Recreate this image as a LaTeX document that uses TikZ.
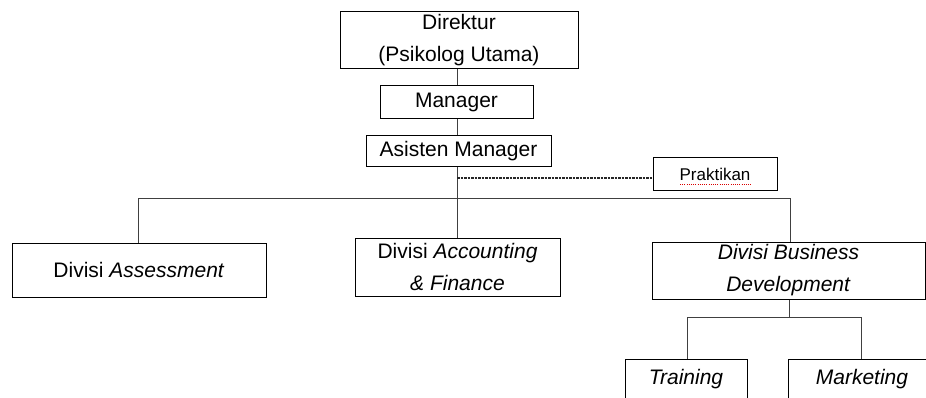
\documentclass[tikz,border=0pt]{standalone}
\usepackage{fontspec}
\setmainfont{Liberation Sans}
\usetikzlibrary{calc}
\begin{document}
\begin{tikzpicture}[x=1pt,y=-1pt,
  box/.style={draw=black,line width=1pt,rectangle,inner sep=0pt,align=center,
    font=\fontsize{21}{32}\selectfont},
  conn/.style={draw=black!75,line width=1pt},
  dashconn/.style={draw=black!85,line width=1.1pt,dash pattern=on 2.5pt off 1pt}]
\useasboundingbox (0,0) rectangle (926,398);
\clip (0,0) rectangle (926,398);
\coordinate (trunk) at (457,0);
\coordinate (barL) at (138,199);
\coordinate (barR) at (790,199);
\coordinate (dashY) at (0,178);
\coordinate (subL) at (687,317);
\coordinate (subR) at (861,317);
\coordinate (subM) at (789,317);

\node[box,minimum width=238pt,minimum height=57pt] (dir) at (459,40.5) {Direktur\\(Psikolog Utama)};
\node[box,minimum width=153pt,minimum height=33pt] (mgr) at (456.5,102.5) {Manager};
\node[box,minimum width=185pt,minimum height=31pt] (asm) at (458.5,151.5) {Asisten Manager};
\node[box,minimum width=124pt,minimum height=33pt,font=\fontsize{17}{20}\selectfont] (prak) at (715,174.5) {Praktikan};
\node[box,minimum width=254pt,minimum height=54pt] (ass) at (139,270) {Divisi \textit{Assessment}};
\node[box,minimum width=205pt,minimum height=58pt] (acc) at (457.5,267) {Divisi \textit{Accounting}\\\textit{\& Finance}};
\node[box,minimum width=273pt,minimum height=57pt] (bd) at (788.5,270.5) {\textit{Divisi Business}\\\textit{Development}};
\node[box,minimum width=122pt,minimum height=62pt,text depth=27pt] (tr) at (686,390) {\textit{Training}};
\node[box,minimum width=148pt,minimum height=62pt,text depth=27pt] (mk) at (862,390) {\textit{Marketing}};

\draw[red!85!black,line width=0.9pt,dash pattern=on 1pt off 1.2pt] ($(prak.center)+(-35,10)$) -- ($(prak.center)+(37,10)$);

\draw[conn] (dir.south -| trunk) -- (mgr.north -| trunk);
\draw[conn] (mgr.south -| trunk) -- (asm.north -| trunk);
\draw[conn] (asm.south -| trunk) -- (acc.north -| trunk);
\draw[conn] (ass.north -| barL) -- (barL) -- (barR) -- (bd.north -| barR);
\draw[dashconn] (trunk |- dashY) -- (prak.west |- dashY);
\draw[conn] (bd.south -| subM) -- (subM);
\draw[conn] (tr.north -| subL) -- (subL) -- (subR) -- (mk.north -| subR);
\end{tikzpicture}
\end{document}
